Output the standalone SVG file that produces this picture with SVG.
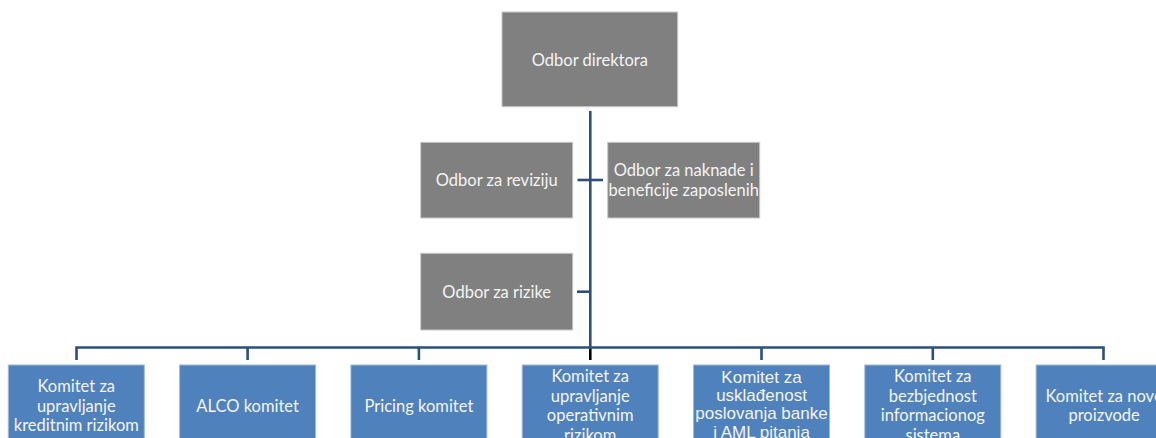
<svg xmlns="http://www.w3.org/2000/svg" width="1156" height="438" viewBox="0 0 1156 438">
<defs>
<style>
.g{fill:#808080;stroke:#c9c9c9;stroke-width:1}
.b{fill:#4f81bd;stroke:#9fb9da;stroke-width:1}
.t{font-family:Lato,"Open Sans",sans-serif;font-size:16.5px;fill:#f4f4f4;text-anchor:middle}
.a{font-family:"Liberation Sans",Arial,sans-serif;font-size:17px;fill:#f4f4f4;text-anchor:middle}
.c{fill:none;stroke:#2b4f80;stroke-width:2.6}
</style>
</defs>
<rect width="1156" height="438" fill="#ffffff"/>
<g id="connectors">
<line class="c" x1="590.3" y1="111" x2="590.3" y2="349"/>
<line x1="590.3" y1="349" x2="590.3" y2="360" stroke="#000" stroke-width="2.6"/>
<line class="c" x1="577.5" y1="180" x2="603" y2="180"/>
<line class="c" x1="577" y1="291.7" x2="590.3" y2="291.7"/>
<polyline class="c" points="76.5,360 76.5,347.5 1103.5,347.5 1103.5,360" stroke-width="3"/>
<line class="c" x1="247.6" y1="347.5" x2="247.6" y2="360"/>
<line class="c" x1="418.9" y1="347.5" x2="418.9" y2="360"/>
<line class="c" x1="761.5" y1="347.5" x2="761.5" y2="360"/>
<line class="c" x1="932.8" y1="347.5" x2="932.8" y2="360"/>
</g>
<g id="odbor-direktora">
<rect class="g" x="502" y="12" width="175.7" height="94.7"/>
<text class="t" x="589.8" y="66">Odbor direktora</text>
</g>
<g id="odbor-revizija">
<rect class="g" x="420.7" y="142.3" width="152" height="75.7"/>
<text class="t" x="496.7" y="186">Odbor za reviziju</text>
</g>
<g id="odbor-naknade">
<rect class="g" x="607.7" y="142.3" width="152" height="75.7"/>
<text class="t" x="683.7" y="176">Odbor za naknade i</text>
<text class="t" x="683.7" y="196">beneficije zaposlenih</text>
</g>
<g id="odbor-rizike">
<rect class="g" x="420.7" y="253.3" width="152" height="76.7"/>
<text class="t" x="496.7" y="297.5">Odbor za rizike</text>
</g>
<g id="kreditni">
<rect class="b" x="8.3" y="365" width="136" height="82"/>
<text class="t" x="76.3" y="392">Komitet za</text>
<text class="t" x="76.3" y="411.5">upravljanje</text>
<text class="t" x="76.3" y="431">kreditnim rizikom</text>
</g>
<g id="alco">
<rect class="b" x="179.6" y="365" width="136" height="82"/>
<text class="t" x="247.6" y="411.5">ALCO komitet</text>
</g>
<g id="pricing">
<rect class="b" x="350.9" y="365" width="136" height="82"/>
<text class="t" x="418.9" y="411.5">Pricing komitet</text>
</g>
<g id="operativni">
<rect class="b" x="522.2" y="365" width="136" height="82"/>
<text class="t" x="590.2" y="382">Komitet za</text>
<text class="t" x="590.2" y="401.5">upravljanje</text>
<text class="t" x="590.2" y="421">operativnim</text>
<text class="t" x="590.2" y="440.5">rizikom</text>
</g>
<g id="uskladjenost">
<rect class="b" x="693.5" y="365" width="136" height="82"/>
<text class="a" x="761.5" y="382.7">Komitet za</text>
<text class="a" x="761.5" y="401">usklađenost</text>
<text class="a" x="761.5" y="419.4">poslovanja banke</text>
<text class="a" x="761.5" y="437.8">i AML pitanja</text>
</g>
<g id="bezbjednost">
<rect class="b" x="864.8" y="365" width="136" height="82"/>
<text class="t" x="932.8" y="382">Komitet za</text>
<text class="t" x="932.8" y="401.5">bezbjednost</text>
<text class="t" x="932.8" y="421">informacionog</text>
<text class="t" x="932.8" y="440.5">sistema</text>
</g>
<g id="novi-proizvodi">
<rect class="b" x="1036.1" y="365" width="136" height="82"/>
<text class="t" x="1104.1" y="401.75">Komitet za nove</text>
<text class="t" x="1104.1" y="421.25">proizvode</text>
</g>
</svg>
